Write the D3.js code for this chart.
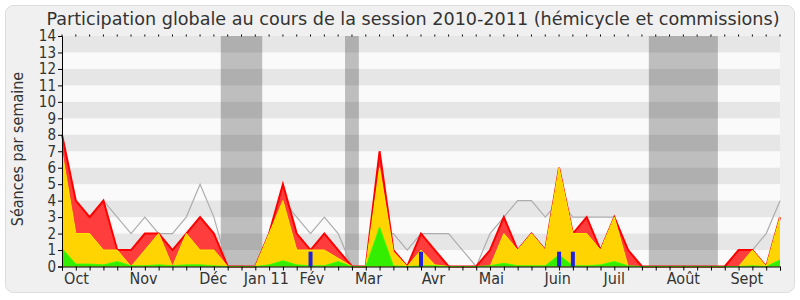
<!DOCTYPE html>
<html>
<head>
<meta charset="utf-8">
<script src="https://cdn.jsdelivr.net/npm/d3@7"></script>
<style>
  html, body { margin: 0; padding: 0; background: #fff; }
  svg { display: block; }
  text { font-family: "DejaVu Sans Condensed", "DejaVu Sans", sans-serif; fill: #333; }
</style>
</head>
<body>
<svg id="chart" width="800" height="300"></svg>
<script>
// weekly values, index 0 = first week of the session (end of Sept 2010)
const totalSeances = [8, 4, 3, 4, 1, 1, 2, 2, 1, 2, 3, 2, 0, 0, 0, 2, 5, 2, 1, 2, 1, 0, 0, 7, 1, 0,
    2, 1, 0, 0, 0, 1, 3, 1, 2, 1, 6, 2, 3, 1, 3, 1, 0, 0, 0, 0, 0, 0, 0, 1, 1, 0, 3];
const hemicycle = [7, 2, 2, 1, 1, 0, 1, 2, 0, 2, 1, 1, 0, 0, 0, 2, 4, 1, 1, 1, 0.5, 0, 0, 6, 0.9, 0,
    1, 0.1, 0, 0, 0, 0, 2, 1, 2, 1, 6, 2, 2, 1, 3, 0, 0, 0, 0, 0, 0, 0, 0, 0, 1, 0, 3];
const commission = [1.1, 0.15, 0.15, 0.1, 0.3, 0.05, 0.05, 0.1, 0.05, 0.1, 0.1, 0.05, 0, 0, 0, 0.1, 0.35, 0.1,
    0.05, 0.05, 0.3, 0, 0, 2.4, 0.05, 0, 0.05, 0.05, 0, 0, 0, 0.05, 0.2, 0.05, 0.05, 0.05, 0.7, 0.05,
    0.05, 0.1, 0.3, 0.05, 0, 0, 0, 0, 0, 0, 0, 0, 0.05, 0, 0.4];
const mediane = [8, 4, 3, 4, 3, 2, 3, 2, 2, 3, 5, 3, 0, 0, 0, 2, 4, 3, 2, 3, 2, 0, 0, 2, 2, 1,
    2, 2, 2, 1, 0, 2, 3, 4, 4, 3, 4, 3, 3, 3, 3, 1, 0, 0, 0, 0, 0, 0, 0, 1, 1, 2, 4];
const questionsWeeks = [18, 26, 36, 37];
const questionsValue = 0.9;
const vacances = [[12, 14], [21, 21], [43, 47]];
const monthLabels = ['Oct', 'Nov', 'Déc', 'Jan 11', 'Fév', 'Mar', 'Avr', 'Mai', 'Juin', 'Juil', 'Août', 'Sept'];
const monthWeeks = [1.05, 5.9, 10.95, 14.8, 18.1, 22.2, 26.9, 31.1, 35.9, 40, 45, 49.6];
const yTicks = d3.range(0, 15);

const svg = d3.select('#chart');
const plotL = 62, plotR = 780, plotT = 36, plotB = 266.5;
const nWeeks = totalSeances.length;

const x = d3.scaleLinear().domain([0, nWeeks - 1]).range([plotL, plotR]);
const y = d3.scaleLinear().domain([0, 14]).range([plotB, plotT]);

// outer frame
svg.append('rect')
    .attr('x', 5.5).attr('y', 5.5).attr('width', 789).attr('height', 287)
    .attr('rx', 8).attr('fill', '#f0f0f0').attr('stroke', '#dcdcdc');

svg.append('text')
    .attr('x', 413).attr('y', 25)
    .attr('text-anchor', 'middle')
    .attr('font-size', 18)
    .attr('textLength', 733).attr('lengthAdjust', 'spacingAndGlyphs')
    .text('Participation globale au cours de la session 2010-2011 (hémicycle et commissions)');

// plot background
svg.append('rect')
    .attr('x', plotL).attr('y', plotT).attr('width', plotR - plotL).attr('height', plotB - plotT)
    .attr('fill', '#fafafa');

// holidays
svg.append('g').selectAll('rect')
    .data(vacances)
    .join('rect')
    .attr('x', d => x(d[0] - 0.5))
    .attr('width', d => x(d[1] + 0.5) - x(d[0] - 0.5))
    .attr('y', plotT).attr('height', plotB - plotT)
    .attr('fill', '#bebebe');

// stripes
svg.append('g').selectAll('rect')
    .data(yTicks.filter(v => v % 2 === 1))
    .join('rect')
    .attr('x', plotL).attr('width', plotR - plotL)
    .attr('y', d => y(d + 1)).attr('height', d => y(d) - y(d + 1))
    .attr('fill', 'rgba(0,0,0,0.08)');

const idx = d3.range(nWeeks);

svg.append('path')
    .datum(idx)
    .attr('fill', 'none').attr('stroke', '#adadad').attr('stroke-width', 1.2)
    .attr('d', d3.line().x(i => x(i)).y(i => y(mediane[i])));

function layer(values, fill, stroke, sw) {
    svg.append('path')
        .datum(idx)
        .attr('fill', fill)
        .attr('d', d3.area().x(i => x(i)).y0(y(0)).y1(i => y(values[i])));
    svg.append('path')
        .datum(idx)
        .attr('fill', 'none').attr('stroke', stroke).attr('stroke-width', sw)
        .attr('d', d3.line().x(i => x(i)).y(i => y(values[i])));
}
layer(totalSeances, '#ff3d3d', '#ff0000', 2);
layer(hemicycle, '#ffd400', '#ffea00', 1);
layer(commission, '#33ee00', '#33ff00', 0.8);

svg.append('g').selectAll('rect')
    .data(questionsWeeks)
    .join('rect')
    .attr('x', d => x(d) - 2).attr('width', 4)
    .attr('y', y(questionsValue)).attr('height', y(0) - y(questionsValue))
    .attr('fill', '#2222dd');

// axes
const yAxis = svg.append('g')
    .attr('transform', 'translate(' + plotL + ',0)')
    .call(d3.axisLeft(y).tickValues(yTicks).tickSize(4).tickPadding(2).tickFormat(d3.format('d')));
yAxis.selectAll('text').attr('font-size', 15).attr('fill', '#333').style('font-family', null);
yAxis.attr('font-family', null);
yAxis.selectAll('line, path').attr('stroke', '#000');

const xAxis = svg.append('g')
    .attr('transform', 'translate(0,' + plotB + ')')
    .call(d3.axisBottom(x).tickValues(idx).tickSize(4).tickFormat(''));
xAxis.selectAll('line, path').attr('stroke', '#000');

svg.append('g').selectAll('line')
    .data(idx)
    .join('line')
    .attr('x1', d => x(d)).attr('x2', d => x(d))
    .attr('y1', plotT - 1.5).attr('y2', plotT + 0.5)
    .attr('stroke', '#000');

svg.append('g').selectAll('text')
    .data(monthLabels)
    .join('text')
    .attr('x', (d, i) => x(monthWeeks[i]))
    .attr('y', 284)
    .attr('text-anchor', 'middle')
    .attr('font-size', 16)
    .text(d => d);

svg.append('text')
    .attr('transform', 'translate(23,149) rotate(-90)')
    .attr('text-anchor', 'middle')
    .attr('font-size', 16)
    .text('Séances par semaine');
</script>
</body>
</html>
